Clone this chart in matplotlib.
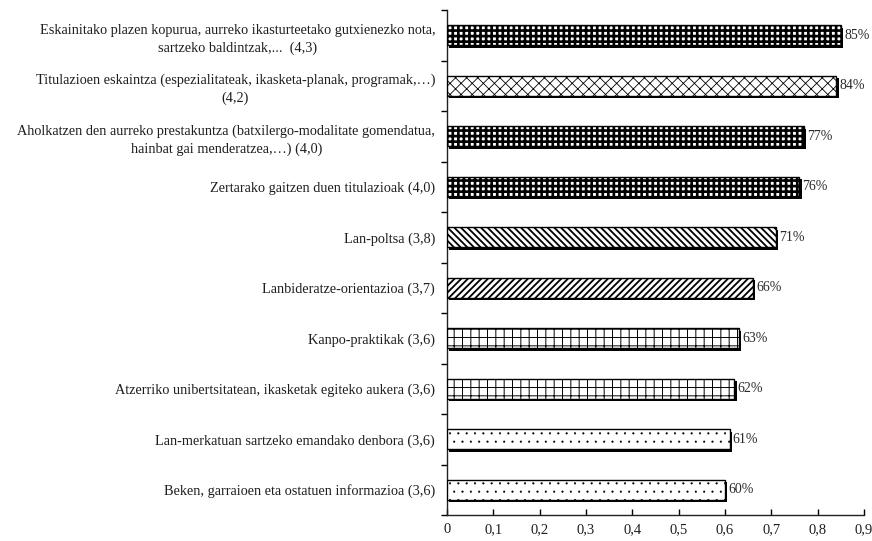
import matplotlib
matplotlib.use("Agg")
import matplotlib.pyplot as plt
import matplotlib.patheffects as pe
from matplotlib.ticker import FixedLocator, FuncFormatter

# ── Data (top to bottom) ──────────────────────────────────────────────
labels = [
    "Eskainitako plazen kopurua, aurreko ikasturteetako gutxienezko nota,\nsartzeko baldintzak,...  (4,3)",
    "Titulazioen eskaintza (espezialitateak, ikasketa-planak, programak,…)\n(4,2)",
    "Aholkatzen den aurreko prestakuntza (batxilergo-modalitate gomendatua,\nhainbat gai menderatzea,…) (4,0)",
    "Zertarako gaitzen duen titulazioak (4,0)",
    "Lan-poltsa (3,8)",
    "Lanbideratze-orientazioa (3,7)",
    "Kanpo-praktikak (3,6)",
    "Atzerriko unibertsitatean, ikasketak egiteko aukera (3,6)",
    "Lan-merkatuan sartzeko emandako denbora (3,6)",
    "Beken, garraioen eta ostatuen informazioa (3,6)",
]
values = [0.85, 0.84, 0.77, 0.76, 0.71, 0.66, 0.63, 0.62, 0.61, 0.60]
pct_labels = ["85%", "84%", "77%", "76%", "71%", "66%", "63%", "62%", "61%", "60%"]
x_ticks = [0, 0.1, 0.2, 0.3, 0.4, 0.5, 0.6, 0.7, 0.8, 0.9]

# hatch pattern + hatch line width per bar
hatches = ["+++", "xxx", "+++", "+++", "\\" * 5, "/" * 5, "++", "++", "..", ".."]
hatch_lw = [1.9, 0.6, 1.9, 1.9, 1.3, 1.3, 0.7, 0.7, 0.3, 0.3]

TEXT = "#1e1e1e"
SERIF = "Liberation Serif"

fig = plt.figure(figsize=(8.72, 5.41), dpi=100)
ax = fig.add_axes([0.5126, 0.048, 0.4782, 0.9335])

ypos = list(range(len(values)))
bars = ax.barh(ypos, values, height=0.4, color="white", edgecolor="black",
               linewidth=1.0, zorder=3)
for b, h, lw in zip(bars, hatches, hatch_lw):
    b.set_hatch(h)
    if hasattr(b, "set_hatch_linewidth"):
        b.set_hatch_linewidth(lw)
    b.set_path_effects([
        pe.SimplePatchShadow(offset=(1.8, -1.8), shadow_rgbFace="black", alpha=1.0),
        pe.Normal(),
    ])

for y, v, t in zip(ypos, values, pct_labels):
    ax.text(v + 0.007, y, t, va="center", ha="left", fontsize=10,
            family=SERIF, color="#2a2a2a")

ax.set_xlim(0, 0.9)
ax.set_ylim(len(values) - 0.5, -0.5)

# y axis: labels at bar centres, tick marks between categories
ax.set_yticks(ypos)
ax.set_yticklabels(labels, family=SERIF, fontsize=10.3, color=TEXT,
                   multialignment="center", linespacing=1.45)
ax.tick_params(axis="y", which="major", length=0, pad=8.5)
ax.yaxis.set_minor_locator(FixedLocator([i + 0.5 for i in range(-1, len(values))]))
ax.tick_params(axis="y", which="minor", length=4, width=1.0, direction="out")

ax.set_xticks(x_ticks)
ax.xaxis.set_major_formatter(FuncFormatter(
    lambda v, _: "0" if v == 0 else f"{v:.1f}".replace(".", ",")))
ax.tick_params(axis="x", length=4, width=1.0, direction="in", pad=6,
               labelsize=10.5, labelcolor=TEXT)
for t in ax.get_xticklabels():
    t.set_family(SERIF)

for s in ("top", "right"):
    ax.spines[s].set_visible(False)
for s in ("left", "bottom"):
    ax.spines[s].set_linewidth(1.0)
    ax.spines[s].set_color("#222222")

fig.savefig("out.png", dpi=100)
